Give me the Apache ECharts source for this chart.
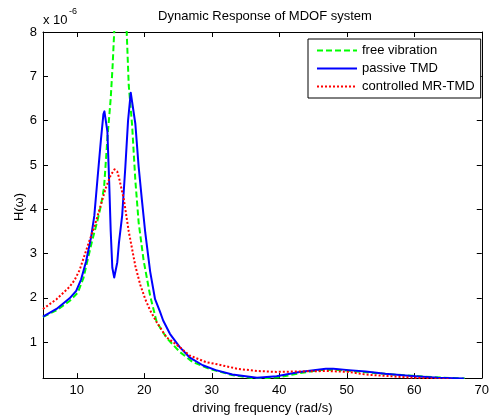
<!DOCTYPE html>
<html><head><meta charset="utf-8">
<script src="https://cdn.jsdelivr.net/npm/echarts@6/dist/echarts.min.js"></script>
<style>html,body{margin:0;padding:0;background:#fff}#c{width:492px;height:420px}</style>
</head><body><div id="c"></div>
<script>
// Values in units of 1e-6
const freqFree = [5, 7, 8.94, 10.16, 11.0, 11.6, 12.3, 13.08, 13.6, 14.05, 14.54, 15.03, 15.3, 15.55, 15.9, 16.3, 16.5, 16.8, 17.1, 17.4, 17.7, 18.2, 18.68, 19.17, 19.9, 20.87, 21.85, 23.3, 25.26, 27.2, 29.64, 33, 36, 38, 40, 43, 46, 48, 50, 53, 56, 60, 64, 67.5];
const hFree    = [1.57, 1.72, 1.93, 2.12, 2.45, 2.85, 3.3, 3.75, 4.1, 4.5, 5.6, 6.5, 7.2, 8.0, 10.5, 13.5, 14, 12.5, 10, 8.0, 6.8, 5.9, 4.65, 3.7, 2.85, 2.05, 1.45, 1.1, 0.78, 0.55, 0.40, 0.26, 0.19, 0.19, 0.21, 0.30, 0.37, 0.38, 0.36, 0.32, 0.28, 0.24, 0.20, 0.18];

const freqPassive = [5, 7, 8.94, 9.92, 10.65, 11.38, 12.1, 12.6, 13.08, 13.57, 13.95, 14.1, 14.54, 14.8, 15.03, 15.27, 15.55, 16.0, 16.25, 16.73, 17.2, 17.6, 18.0, 18.68, 19.17, 19.65, 20.15, 20.87, 21.6, 22.3, 22.8, 23.8, 25.26, 26.7, 28.66, 30.6, 33.05, 36.7, 39.6, 43, 46.9, 48, 50.3, 52.8, 55.7, 59.6, 63.5, 67.4];
const hPassive    = [1.58, 1.75, 1.99, 2.16, 2.42, 2.82, 3.35, 3.85, 4.7, 5.55, 6.15, 6.21, 5.75, 4.63, 3.51, 2.68, 2.46, 2.8, 3.24, 3.86, 4.96, 6.0, 6.63, 5.93, 4.96, 4.21, 3.47, 2.6, 1.97, 1.7, 1.49, 1.19, 0.89, 0.66, 0.48, 0.37, 0.27, 0.20, 0.23, 0.33, 0.40, 0.40, 0.37, 0.34, 0.29, 0.24, 0.20, 0.18];

const freqMR = [5, 7, 8.94, 9.67, 10.4, 11.13, 11.9, 12.6, 13.57, 14.3, 15.03, 15.6, 16.0, 16.25, 16.98, 17.7, 18.68, 19.4, 20.15, 20.87, 21.85, 23.3, 25.26, 26.7, 29.15, 30.85, 33.8, 36.7, 39.6, 43, 46.9, 50.3, 52.8, 55.7, 59.6, 63.5, 65.5];
const hMR    = [1.75, 1.97, 2.25, 2.4, 2.62, 2.95, 3.3, 3.6, 4.1, 4.48, 4.77, 4.9, 4.85, 4.72, 4.22, 3.5, 2.72, 2.3, 1.97, 1.72, 1.45, 1.11, 0.89, 0.70, 0.55, 0.50, 0.40, 0.35, 0.33, 0.34, 0.35, 0.33, 0.27, 0.24, 0.20, 0.17, 0.16];

const seriesNames = ['free vibration', 'passive TMD', 'controlled MR-TMD'];
const xTickValues = [10, 20, 30, 40, 50, 60, 70];
const yTickValues = [1, 2, 3, 4, 5, 6, 7, 8];

const FONT = "'Liberation Sans', Arial, Helvetica, sans-serif";
const zip = (xs, ys) => xs.map((x, i) => [x, ys[i]]);

const chart = echarts.init(document.getElementById('c'), null, {renderer: 'canvas'});
const axisLine = {show: true, lineStyle: {color: '#000', width: 1}};
const lineSeries = (name, data, color, type) => ({
  name, type: 'line', data, showSymbol: false, symbol: 'none',
  smooth: false, clip: true,
  lineStyle: {color, width: 2, type, join: 'round'}, itemStyle: {color},
  emphasis: {disabled: true}, animation: false
});

chart.setOption({
  animation: false,
  backgroundColor: '#fff',
  grid: {left: 43, right: 4, top: 32, bottom: 39, containLabel: false},
  xAxis: [
    {type: 'value', min: 5, max: 70, position: 'bottom',
     axisLine, splitLine: {show: false},
     axisTick: {show: true, inside: true, length: 5, customValues: xTickValues, lineStyle: {color: '#000'}},
     axisLabel: {show: true, customValues: xTickValues, margin: 6, color: '#000', fontSize: 13, fontFamily: FONT},
     name: 'driving frequency (rad/s)', nameLocation: 'middle', nameGap: 21,
     nameTextStyle: {color: '#000', fontSize: 13, fontFamily: FONT}},
    {type: 'value', min: 5, max: 70, position: 'top',
     axisLine, splitLine: {show: false},
     axisTick: {show: true, inside: true, length: 5, customValues: [10, 20, 30, 40, 50, 60], lineStyle: {color: '#000'}},
     axisLabel: {show: false}}
  ],
  yAxis: [
    {type: 'value', min: 0.19, max: 8, position: 'left',
     axisLine, splitLine: {show: false},
     axisTick: {show: true, inside: true, length: 5, customValues: yTickValues, lineStyle: {color: '#000'}},
     axisLabel: {show: true, customValues: yTickValues, margin: 6, color: '#000', fontSize: 13, fontFamily: FONT}},
    {type: 'value', min: 0.19, max: 8, position: 'right',
     axisLine, splitLine: {show: false},
     axisTick: {show: true, inside: true, length: 5, customValues: [1, 2, 3, 4, 5, 6, 7], lineStyle: {color: '#000'}},
     axisLabel: {show: false}}
  ],
  legend: {
    show: true, orient: 'vertical', left: 308, top: 39,
    padding: [5, 6, 5, 8], itemGap: 5, itemWidth: 40, itemHeight: 14,
    borderColor: '#000', borderWidth: 1, backgroundColor: '#fff',
    itemStyle: {opacity: 0},
    textStyle: {color: '#000', fontSize: 13, fontFamily: FONT},
    data: seriesNames, selectedMode: false
  },
  graphic: [
    {type: 'text', x: 265, y: 16, style: {text: 'Dynamic Response of MDOF system', fill: '#000', font: '13px ' + FONT, textAlign: 'center', textVerticalAlign: 'middle'}, silent: true},
    {type: 'text', x: 43, y: 20, style: {text: 'x 10', fill: '#000', font: '13px ' + FONT, textAlign: 'left', textVerticalAlign: 'middle'}, silent: true},
    {type: 'text', x: 69, y: 12, style: {text: '-6', fill: '#000', font: '9px ' + FONT, textAlign: 'left', textVerticalAlign: 'middle'}, silent: true},
    {type: 'text', x: 19, y: 207, rotation: Math.PI / 2, style: {text: 'H(ω)', fill: '#000', font: '13px ' + FONT, textAlign: 'center', textVerticalAlign: 'middle'}, silent: true}
  ],
  series: [
    lineSeries(seriesNames[0], zip(freqFree, hFree), '#00ff00', [6, 3]),
    lineSeries(seriesNames[1], zip(freqPassive, hPassive), '#0000ff', 'solid'),
    lineSeries(seriesNames[2], zip(freqMR, hMR), '#ff0000', [2, 2])
  ]
});
</script>
</body></html>
